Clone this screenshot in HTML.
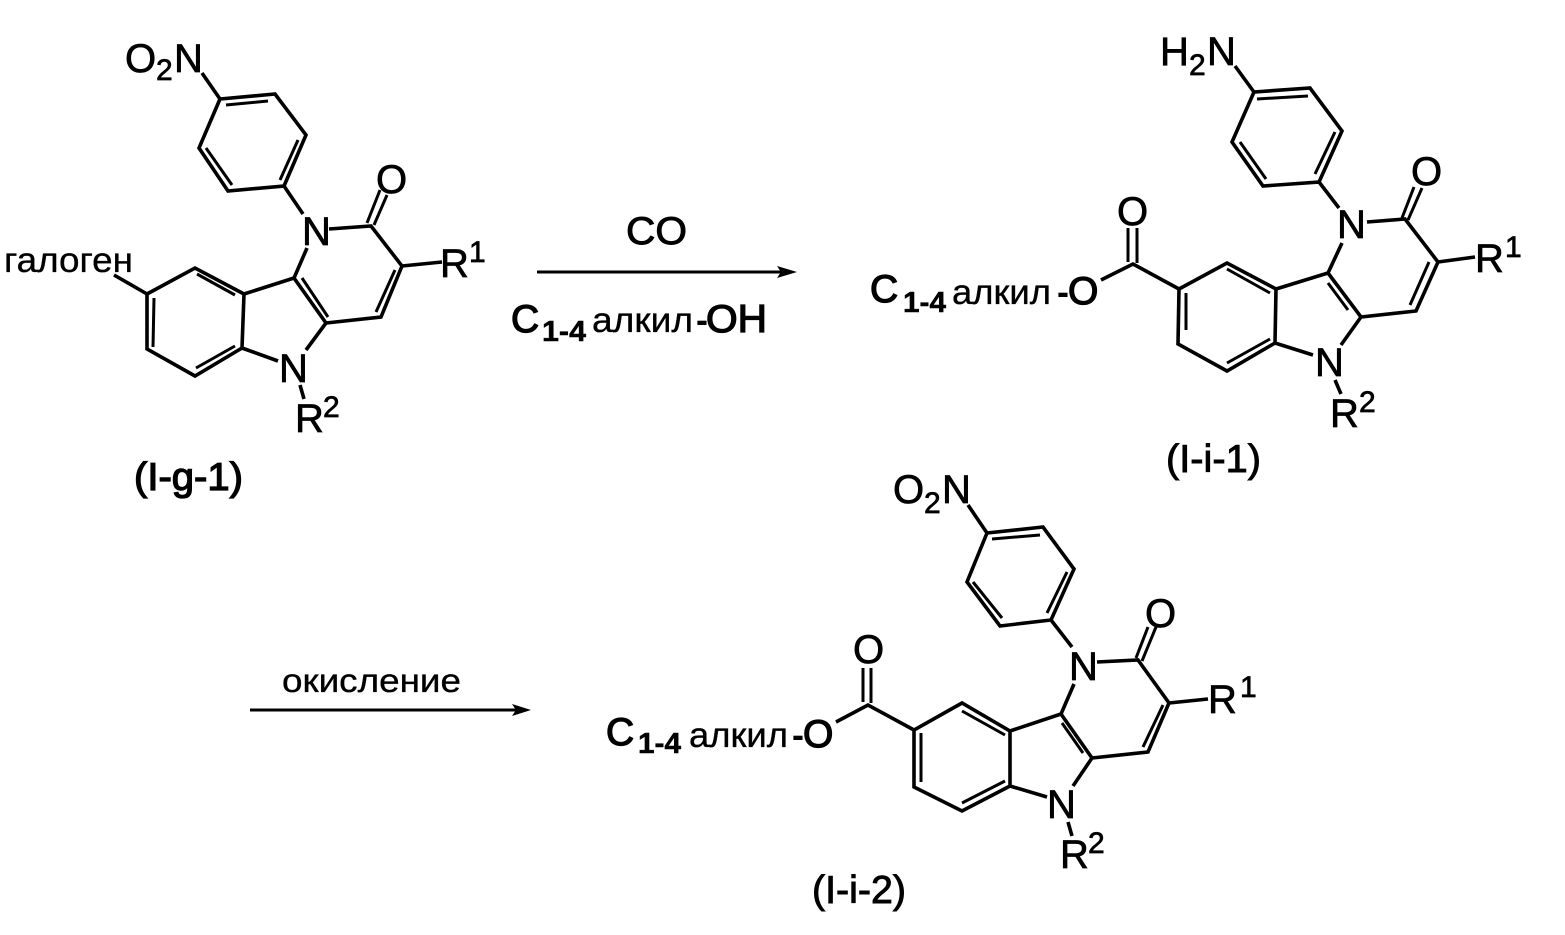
<!DOCTYPE html>
<html>
<head>
<meta charset="utf-8">
<style>
html,body{margin:0;padding:0;background:#fff;width:1565px;height:935px;overflow:hidden}
svg{display:block}
text{font-family:"Liberation Sans",Arial,sans-serif;fill:#000}
.b{fill:none;stroke:#000;stroke-width:3.6;stroke-linejoin:miter;stroke-linecap:butt}
.i{fill:none;stroke:#000;stroke-width:3}
.a{font-size:40px;stroke:#000;stroke-width:.7}
.s{font-size:30px;stroke:#000;stroke-width:.7}
.k{font-size:35px;stroke:#000;stroke-width:.35}
.t{font-size:39px;stroke:#000;stroke-width:1.3}
.c{font-size:39px;stroke:#000;stroke-width:1.3}
.l{font-size:39px;stroke:#000;stroke-width:.9}
.u{font-size:29px;font-weight:bold;stroke:#000;stroke-width:.5}
.h{font-size:36px;font-weight:bold}
</style>
</head>
<body>
<svg width="1565" height="935" viewBox="0 0 1565 935" xmlns="http://www.w3.org/2000/svg">
<rect width="1565" height="935" fill="#fff"/>

<!-- I-g-1 -->
<path class="b" d="M202 73L220 99L275 94L306 135L284 186L228 191L199 148L220 99M284 186L303 214M329 229L371 226L402 266L381 317L326 323L294 278L307 248M402 266L442 262M326 323L306 350M294 278L244 294L195 268L147 294L147 349L195 376L242 348L244 294M242 348L278 361M300 385L304 399M147 294L114 275"/>
<path class="i" d="M226 105L268 101M298 140L280 180M232 185L206 148M367 223L380 190M374 225L387 195M395 270L376 312M328 317L302 278M235 295L197 274M154 298L153 347M196 368L235 346"/>
<text class="a" x="125" y="72">O</text>
<text class="s" x="156" y="80">2</text>
<text class="a" x="174" y="72">N</text>
<text class="a" x="376" y="193">O</text>
<text class="a" x="302" y="245">N</text>
<text class="a" x="279" y="382">N</text>
<text class="a" x="440" y="277">R</text>
<text class="s" x="469" y="262">1</text>
<text class="a" x="295" y="432">R</text>
<text class="s" x="323" y="417">2</text>
<text class="k" x="4" y="272" textLength="129" lengthAdjust="spacingAndGlyphs">галоген</text>
<text class="t" x="134" y="490" textLength="109" lengthAdjust="spacingAndGlyphs">(I-g-1)</text>

<!-- Arrow 1 -->
<path d="M537 272H785" stroke="#000" stroke-width="3" fill="none"/>
<path d="M797 272L777 266L781 272L777 278Z" fill="#000"/>
<text class="l" x="626" y="244" textLength="61" lengthAdjust="spacingAndGlyphs">CO</text>
<text class="c" x="511" y="332">C</text>
<text class="u" x="542" y="341" textLength="44" lengthAdjust="spacingAndGlyphs">1-4</text>
<text class="k" x="592" y="332" textLength="101" lengthAdjust="spacingAndGlyphs">алкил</text>
<text class="h" x="696" y="332">-</text>
<text class="c" x="706" y="332" textLength="61" lengthAdjust="spacingAndGlyphs">OH</text>

<!-- I-i-1 -->
<path class="b" d="M1235 66L1254 92L1310 88L1342 131L1319 182L1263 186L1232 142L1254 92M1319 182L1339 208M1367 222L1405 219L1438 262L1416 311L1361 317L1328 273L1342 243M1438 262L1475 257M1361 317L1341 345M1328 273L1276 289L1227 263L1179 289L1178 344L1227 371L1275 343L1276 289M1275 343L1313 355M1335 380L1341 394M1179 289L1133 264L1101 280"/>
<path class="i" d="M1257 99L1308 96M1335 132L1315 174M1266 179L1240 142M1402 218L1414 187M1408 220L1422 188M1429 262L1410 305M1328 283L1348 310M1227 269L1270 293M1186 293L1186 330M1227 363L1270 339M1128 262V228M1137 263V228"/>
<text class="a" x="1160" y="65">H</text>
<text class="s" x="1189" y="75">2</text>
<text class="a" x="1207" y="65">N</text>
<text class="a" x="1411" y="185">O</text>
<text class="a" x="1337" y="238">N</text>
<text class="a" x="1315" y="376">N</text>
<text class="a" x="1475" y="272">R</text>
<text class="s" x="1505" y="257">1</text>
<text class="a" x="1330" y="427">R</text>
<text class="s" x="1359" y="412">2</text>
<text class="a" x="1117" y="225">O</text>
<text class="c" x="870" y="302">C</text>
<text class="u" x="903" y="312" textLength="43" lengthAdjust="spacingAndGlyphs">1-4</text>
<text class="k" x="952" y="304" textLength="99" lengthAdjust="spacingAndGlyphs">алкил</text>
<text class="h" x="1057" y="304">-</text>
<text class="c" x="1068" y="304">O</text>
<text class="l" x="1166" y="472" textLength="95" lengthAdjust="spacingAndGlyphs">(I-i-1)</text>

<!-- Arrow 2 -->
<path d="M250 710H520" stroke="#000" stroke-width="3" fill="none"/>
<path d="M531 710L512 704L516 710L512 716Z" fill="#000"/>
<text class="k" x="282" y="692" textLength="179" lengthAdjust="spacingAndGlyphs" style="font-size:33px">окисление</text>

<!-- I-i-2 -->
<path class="b" d="M968 505L987 533L1043 527L1074 569L1051 620L1000 626L967 582L987 533M1051 620L1072 647M1097 662L1138 660L1169 703L1148 752L1092 758L1061 714L1074 684M1169 703L1208 699M1092 758L1073 786M1061 714L1010 731L962 703L914 730L914 787L962 811L1010 786L1010 731M1010 786L1047 797M1068 822L1072 836M914 730L868 705L836 722"/>
<path class="i" d="M992 539L1040 535M1067 572L1047 613M1002 618L973 582M1136 658L1148 627M1142 661L1156 627M1163 705L1143 747M1062 723L1083 753M962 711L1005 735M921 733L921 782M962 803L1005 781M863 702V668M871 703V668"/>
<text class="a" x="893" y="503">O</text>
<text class="s" x="924" y="513">2</text>
<text class="a" x="942" y="503">N</text>
<text class="a" x="1145" y="627">O</text>
<text class="a" x="1069" y="680">N</text>
<text class="a" x="1047" y="818">N</text>
<text class="a" x="1208" y="713">R</text>
<text class="s" x="1240" y="697">1</text>
<text class="a" x="1060" y="868">R</text>
<text class="s" x="1088" y="853">2</text>
<text class="a" x="853" y="663">O</text>
<text class="c" x="606" y="745">C</text>
<text class="u" x="638" y="753" textLength="43" lengthAdjust="spacingAndGlyphs">1-4</text>
<text class="k" x="689" y="747" textLength="99" lengthAdjust="spacingAndGlyphs">алкил</text>
<text class="h" x="792" y="747">-</text>
<text class="c" x="803" y="747">O</text>
<text class="l" x="812" y="903" textLength="94" lengthAdjust="spacingAndGlyphs">(I-i-2)</text>
</svg>
</body>
</html>
